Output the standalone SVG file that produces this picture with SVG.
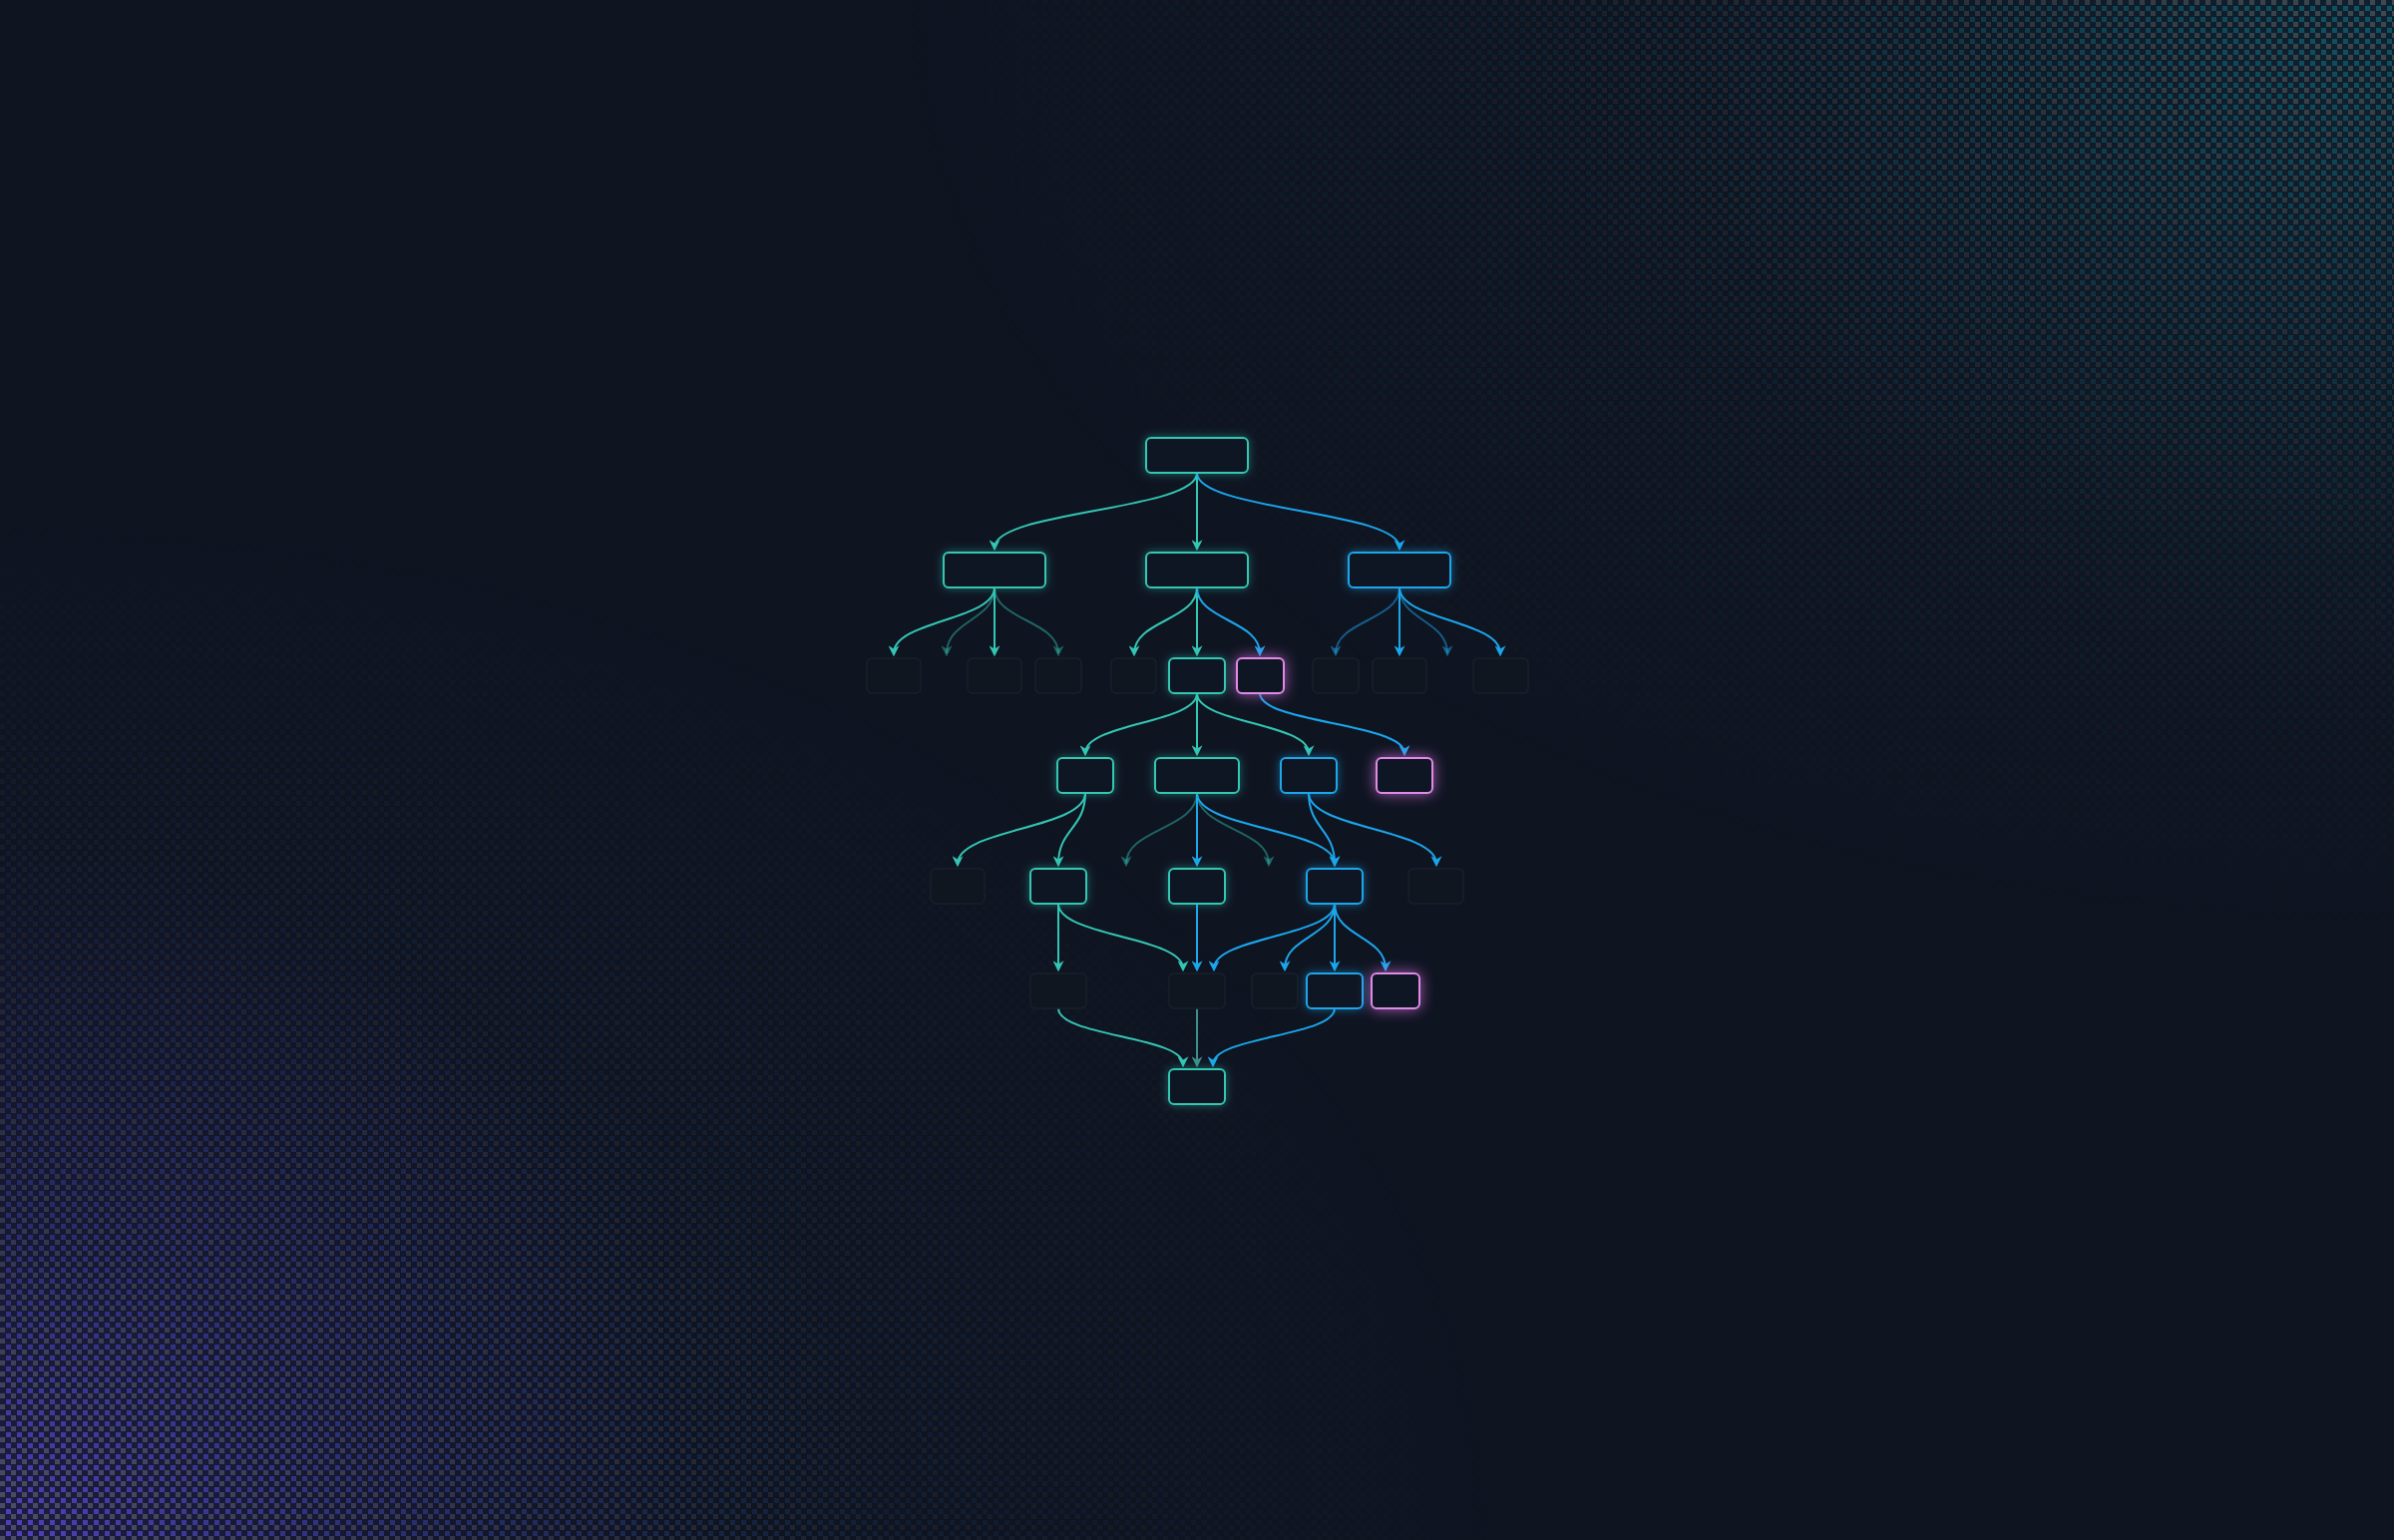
<svg xmlns="http://www.w3.org/2000/svg" width="2400" height="1544" viewBox="0 0 2400 1544">
<style>
.n rect{fill:#0f1623;stroke-width:2}
.nt rect{stroke:#34c6b4}
.nb rect{stroke:#1ba6ec}
.np rect{stroke:#e08ae6}
.ng rect{fill:#10161f;stroke:#19202d;stroke-width:1.5}
.e path{fill:none;stroke-width:2}
.et{stroke:#34c6b4}
.eb{stroke:#1ba6ec}
.edt{stroke:#34c6b4;stroke-opacity:0.45}
.edb{stroke:#1ba6ec;stroke-opacity:0.5}
.eg{stroke:#3f8c8a}
</style>
<defs>
<pattern id="pGray" width="11" height="11" patternUnits="userSpaceOnUse"><rect width="5" height="5" fill="#fff"/></pattern>
<pattern id="pCol" width="11" height="11" patternUnits="userSpaceOnUse"><rect x="6" y="6" width="5" height="5" fill="#fff"/></pattern>
<mask id="mGray" maskUnits="userSpaceOnUse" x="0" y="0" width="2400" height="1544"><rect width="2400" height="1544" fill="url(#pGray)"/></mask>
<mask id="mCol" maskUnits="userSpaceOnUse" x="0" y="0" width="2400" height="1544"><rect width="2400" height="1544" fill="url(#pCol)"/></mask>
<radialGradient id="rTR" gradientUnits="userSpaceOnUse" cx="2400" cy="0" r="1500" gradientTransform="translate(2400 0) scale(1 0.62) translate(-2400 0)">
<stop offset="0" stop-color="#fff" stop-opacity="0.8"/>
<stop offset="0.3" stop-color="#fff" stop-opacity="0.42"/>
<stop offset="0.6" stop-color="#fff" stop-opacity="0.14"/>
<stop offset="1" stop-color="#fff" stop-opacity="0"/>
</radialGradient>
<radialGradient id="rBL" gradientUnits="userSpaceOnUse" cx="0" cy="1544" r="1500" gradientTransform="translate(0 1544) scale(1 0.68) translate(0 -1544)">
<stop offset="0" stop-color="#fff" stop-opacity="0.9"/>
<stop offset="0.3" stop-color="#fff" stop-opacity="0.5"/>
<stop offset="0.6" stop-color="#fff" stop-opacity="0.16"/>
<stop offset="1" stop-color="#fff" stop-opacity="0"/>
</radialGradient>
<radialGradient id="gBL" gradientUnits="userSpaceOnUse" cx="0" cy="1544" r="800">
<stop offset="0" stop-color="#5a44c8"/>
<stop offset="0.45" stop-color="#3c42a8"/>
<stop offset="1" stop-color="#234e8c"/>
</radialGradient>
<radialGradient id="glowBL" gradientUnits="userSpaceOnUse" cx="0" cy="1544" r="700">
<stop offset="0" stop-color="#3a2f8a" stop-opacity="0.3"/>
<stop offset="1" stop-color="#3a2f8a" stop-opacity="0"/>
</radialGradient>
<radialGradient id="glowTR" gradientUnits="userSpaceOnUse" cx="2400" cy="0" r="700">
<stop offset="0" stop-color="#0e4a56" stop-opacity="0.25"/>
<stop offset="1" stop-color="#0e4a56" stop-opacity="0"/>
</radialGradient>
<mask id="mTR" maskUnits="userSpaceOnUse" x="0" y="0" width="2400" height="1544"><rect width="2400" height="1544" fill="url(#rTR)"/></mask>
<mask id="mBL" maskUnits="userSpaceOnUse" x="0" y="0" width="2400" height="1544"><rect width="2400" height="1544" fill="url(#rBL)"/></mask>
<filter id="fT" x="-50%" y="-50%" width="200%" height="200%"><feDropShadow dx="0" dy="0" stdDeviation="5" flood-color="#2ec4b2" flood-opacity="0.45"/></filter>
<filter id="fB" x="-50%" y="-50%" width="200%" height="200%"><feDropShadow dx="0" dy="0" stdDeviation="5" flood-color="#1ba6ec" flood-opacity="0.5"/></filter>
<filter id="fP" x="-60%" y="-60%" width="220%" height="220%"><feDropShadow dx="0" dy="0" stdDeviation="7" flood-color="#d070e0" flood-opacity="0.75"/></filter>
<marker id="aT" markerUnits="userSpaceOnUse" viewBox="0 0 10 10" markerWidth="11" markerHeight="11" refX="7" refY="5" orient="auto"><path d="M0,0 L10,5 L0,10 L3,5 z" fill="#34c6b4"/></marker>
<marker id="aB" markerUnits="userSpaceOnUse" viewBox="0 0 10 10" markerWidth="11" markerHeight="11" refX="7" refY="5" orient="auto"><path d="M0,0 L10,5 L0,10 L3,5 z" fill="#1ba6ec"/></marker>
<marker id="aDT" markerUnits="userSpaceOnUse" viewBox="0 0 10 10" markerWidth="11" markerHeight="11" refX="7" refY="5" orient="auto"><path d="M0,0 L10,5 L0,10 L3,5 z" fill="#34c6b4" fill-opacity="0.45"/></marker>
<marker id="aDB" markerUnits="userSpaceOnUse" viewBox="0 0 10 10" markerWidth="11" markerHeight="11" refX="7" refY="5" orient="auto"><path d="M0,0 L10,5 L0,10 L3,5 z" fill="#1ba6ec" fill-opacity="0.5"/></marker>
<marker id="aG" markerUnits="userSpaceOnUse" viewBox="0 0 10 10" markerWidth="11" markerHeight="11" refX="7" refY="5" orient="auto"><path d="M0,0 L10,5 L0,10 L3,5 z" fill="#3f8c8a"/></marker>
</defs>

<g id="background">
<rect width="2400" height="1544" fill="#0f1421"/>
<rect width="2400" height="1544" fill="url(#glowBL)"/>
<rect width="2400" height="1544" fill="url(#glowTR)"/>
<g mask="url(#mTR)">
<rect width="2400" height="1544" fill="#4c535b" mask="url(#mGray)"/>
<rect width="2400" height="1544" fill="#106274" mask="url(#mCol)"/>
</g>
<g mask="url(#mBL)">
<rect width="2400" height="1544" fill="#52546a" mask="url(#mGray)"/>
<rect width="2400" height="1544" fill="url(#gBL)" mask="url(#mCol)"/>
</g>
</g>

<g id="connectors" class="e">
<path class="et" marker-end="url(#aT)" d="M1200,474 C1200,512 997,512 997,549"/>
<path class="et" marker-end="url(#aT)" d="M1200,474 L1200,549"/>
<path class="eb" marker-end="url(#aB)" d="M1200,474 C1200,512 1403,512 1403,549"/>

<path class="et" marker-end="url(#aT)" d="M997,589 C997,622 896,622 896,655"/>
<path class="edt" marker-end="url(#aDT)" d="M997,589 C997,622 949,622 949,655"/>
<path class="et" marker-end="url(#aT)" d="M997,589 L997,655"/>
<path class="edt" marker-end="url(#aDT)" d="M997,589 C997,622 1061,622 1061,655"/>

<path class="et" marker-end="url(#aT)" d="M1200,589 C1200,622 1137,622 1137,655"/>
<path class="et" marker-end="url(#aT)" d="M1200,589 L1200,655"/>
<path class="eb" marker-end="url(#aB)" d="M1200,589 C1200,622 1263,622 1263,655"/>

<path class="edb" marker-end="url(#aDB)" d="M1403,589 C1403,622 1339,622 1339,655"/>
<path class="eb" marker-end="url(#aB)" d="M1403,589 L1403,655"/>
<path class="edb" marker-end="url(#aDB)" d="M1403,589 C1403,622 1451,622 1451,655"/>
<path class="eb" marker-end="url(#aB)" d="M1403,589 C1403,622 1504,622 1504,655"/>

<path class="et" marker-end="url(#aT)" d="M1200,695 C1200,725 1088,725 1088,755"/>
<path class="et" marker-end="url(#aT)" d="M1200,695 L1200,755"/>
<path class="et" marker-end="url(#aT)" d="M1200,695 C1200,725 1312,725 1312,755"/>
<path class="eb" marker-end="url(#aB)" d="M1263,695 C1263,725 1408,725 1408,755"/>

<path class="et" marker-end="url(#aT)" d="M1088,795 C1088,831 960,831 960,866"/>
<path class="et" marker-end="url(#aT)" d="M1088,795 C1088,831 1061,831 1061,866"/>

<path class="edt" marker-end="url(#aDT)" d="M1200,795 C1200,831 1129,831 1129,866"/>
<path class="eb" marker-end="url(#aB)" d="M1200,795 L1200,866"/>
<path class="edt" marker-end="url(#aDT)" d="M1200,795 C1200,831 1272,831 1272,866"/>
<path class="eb" marker-end="url(#aB)" d="M1200,795 C1200,831 1338,831 1338,866"/>

<path class="eb" marker-end="url(#aB)" d="M1312,795 C1312,831 1338,831 1338,866"/>
<path class="eb" marker-end="url(#aB)" d="M1312,795 C1312,831 1440,831 1440,866"/>

<path class="et" marker-end="url(#aT)" d="M1061,906 L1061,971"/>
<path class="et" marker-end="url(#aT)" d="M1061,906 C1061,939 1186,939 1186,971"/>
<path class="eb" marker-end="url(#aB)" d="M1200,906 L1200,971"/>

<path class="eb" marker-end="url(#aB)" d="M1338,906 C1338,939 1217,939 1217,971"/>
<path class="eb" marker-end="url(#aB)" d="M1338,906 C1338,939 1288,939 1288,971"/>
<path class="eb" marker-end="url(#aB)" d="M1338,906 L1338,971"/>
<path class="eb" marker-end="url(#aB)" d="M1338,906 C1338,939 1389,939 1389,971"/>

<path class="et" marker-end="url(#aT)" d="M1061,1011 C1061,1039 1186,1039 1186,1067"/>
<path class="eg" marker-end="url(#aG)" d="M1200,1011 L1200,1067"/>
<path class="eb" marker-end="url(#aB)" d="M1338,1011 C1338,1039 1216,1039 1216,1067"/>
</g>

<g id="ghosts">
<g id="g2a" class="ng"><rect x="869" y="660" width="54" height="35" rx="5"/></g>
<g id="g2b" class="ng"><rect x="970" y="660" width="54" height="35" rx="5"/></g>
<g id="g2c" class="ng"><rect x="1038" y="660" width="46" height="35" rx="5"/></g>
<g id="g2d" class="ng"><rect x="1114" y="660" width="45" height="35" rx="5"/></g>
<g id="g2e" class="ng"><rect x="1316" y="660" width="46" height="35" rx="5"/></g>
<g id="g2f" class="ng"><rect x="1376" y="660" width="54" height="35" rx="5"/></g>
<g id="g2g" class="ng"><rect x="1477" y="660" width="55" height="35" rx="5"/></g>
<g id="g4a" class="ng"><rect x="933" y="871" width="54" height="35" rx="5"/></g>
<g id="g4b" class="ng"><rect x="1412" y="871" width="55" height="35" rx="5"/></g>
<g id="g5a" class="ng"><rect x="1033" y="976" width="56" height="35" rx="5"/></g>
<g id="g5b" class="ng"><rect x="1172" y="976" width="56" height="35" rx="5"/></g>
<g id="g5c" class="ng"><rect x="1255" y="976" width="46" height="35" rx="5"/></g>
</g>

<g id="nT" class="n nt" filter="url(#fT)"><rect x="1149" y="439" width="102" height="35" rx="5"/></g>
<g id="nA" class="n nt" filter="url(#fT)"><rect x="946" y="554" width="102" height="35" rx="5"/></g>
<g id="nB" class="n nt" filter="url(#fT)"><rect x="1149" y="554" width="102" height="35" rx="5"/></g>
<g id="nC" class="n nb" filter="url(#fB)"><rect x="1352" y="554" width="102" height="35" rx="5"/></g>
<g id="nD" class="n nt" filter="url(#fT)"><rect x="1172" y="660" width="56" height="35" rx="5"/></g>
<g id="nE" class="n np" filter="url(#fP)"><rect x="1240" y="660" width="47" height="35" rx="5"/></g>
<g id="nF" class="n nt" filter="url(#fT)"><rect x="1060" y="760" width="56" height="35" rx="5"/></g>
<g id="nG" class="n nt" filter="url(#fT)"><rect x="1158" y="760" width="84" height="35" rx="5"/></g>
<g id="nH" class="n nb" filter="url(#fB)"><rect x="1284" y="760" width="56" height="35" rx="5"/></g>
<g id="nI" class="n np" filter="url(#fP)"><rect x="1380" y="760" width="56" height="35" rx="5"/></g>
<g id="nK" class="n nt" filter="url(#fT)"><rect x="1033" y="871" width="56" height="35" rx="5"/></g>
<g id="nL" class="n nt" filter="url(#fT)"><rect x="1172" y="871" width="56" height="35" rx="5"/></g>
<g id="nM" class="n nb" filter="url(#fB)"><rect x="1310" y="871" width="56" height="35" rx="5"/></g>
<g id="nR" class="n nb" filter="url(#fB)"><rect x="1310" y="976" width="56" height="35" rx="5"/></g>
<g id="nS" class="n np" filter="url(#fP)"><rect x="1375" y="976" width="48" height="35" rx="5"/></g>
<g id="nU" class="n nt" filter="url(#fT)"><rect x="1172" y="1072" width="56" height="35" rx="5"/></g>
</svg>
